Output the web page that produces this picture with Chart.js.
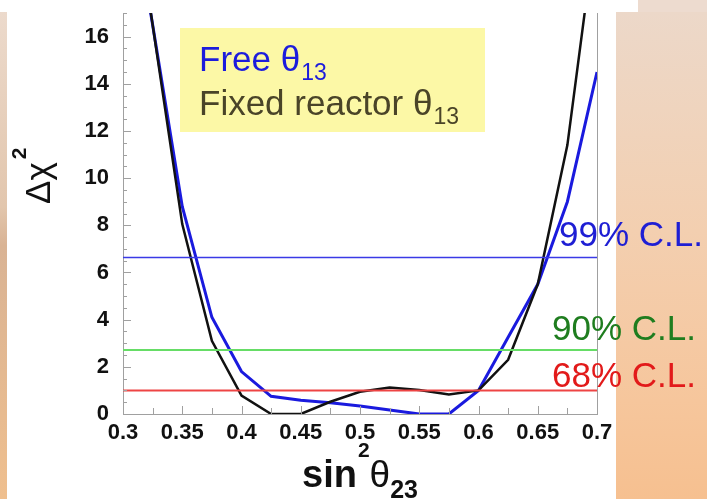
<!DOCTYPE html>
<html>
<head>
<meta charset="utf-8">
<script src="https://cdn.jsdelivr.net/npm/chart.js@4.4.0/dist/chart.umd.min.js"></script>
<style>
  html, body { margin: 0; padding: 0; background: #fff; }
  body { width: 707px; height: 499px; position: relative; overflow: hidden; }
  .deco { position: absolute; }
  #leftStrip { left: 0; top: 12px; width: 7px; height: 487px;
    background: linear-gradient(#ecdacc, #e2c6ad 40%, #d9b394 48%, #efbf8e 100%); }
  #rightCol { left: 616px; top: 12px; width: 91px; height: 487px;
    background: linear-gradient(#ecd8c9, #f3cfb0 45%, #f6c69c 80%, #f6c090 100%); }
  #rightTop { left: 638px; top: 0; width: 69px; height: 12px; background: #eddbcf; }
  #wrap { position: absolute; left: 0; top: 0; width: 707px; height: 499px; }
</style>
</head>
<body>
<div class="deco" id="leftStrip"></div>
<div class="deco" id="rightCol"></div>
<div class="deco" id="rightTop"></div>
<div id="wrap"><canvas id="chi2Chart" width="707" height="499"></canvas></div>
<script>
// --- dados ---
const sinSq = [0.3, 0.325, 0.35, 0.375, 0.4, 0.425, 0.45, 0.475, 0.5, 0.525, 0.55, 0.575, 0.6, 0.625, 0.65, 0.675, 0.7];
const freeTheta13 = [24, 16.5, 8.8, 4.1, 1.8, 0.75, 0.58, 0.48, 0.34, 0.17, 0, 0, 1.0, 3.25, 5.5, 9.0, 14.5];
const fixedTheta13 = [25, 16.5, 8.05, 3.1, 0.78, 0, 0, 0.52, 0.94, 1.12, 1.02, 0.83, 1.0, 2.3, 5.5, 11.4, 21];

const clLevels = [6.63, 2.71, 1.0];
const clNames = ['99% C.L.', '90% C.L.', '68% C.L.'];

const xTicks = [0.3, 0.35, 0.4, 0.45, 0.5, 0.55, 0.6, 0.65, 0.7];
const yTicks = [0, 2, 4, 6, 8, 10, 12, 14, 16];

const FONT = "'Liberation Sans', Arial, sans-serif";

function toPoints(xs, ys) {
  return xs.map(function(x, i) { return { x: x, y: ys[i] }; });
}
function flatLine(level) {
  return [{ x: sinSq[0], y: level }, { x: sinSq[sinSq.length - 1], y: level }];
}

// desenha texto com partes em sub/sobrescrito
function drawRich(ctx, x, y, parts) {
  parts.forEach(function(p) {
    ctx.font = p.font;
    ctx.fillStyle = p.color;
    ctx.fillText(p.text, x, y + (p.dy || 0));
    x += ctx.measureText(p.text).width + (p.gap || 0);
  });
}

const decorPlugin = {
  id: 'decor',
  afterDraw: function(chart) {
    const ctx = chart.ctx;
    const area = chart.chartArea;
    const xs = chart.scales.x, ys = chart.scales.y;
    ctx.save();

    // ticks para dentro
    ctx.strokeStyle = '#a0a0a0';
    ctx.lineWidth = 1;
    ctx.beginPath();
    for (let v = 0; v <= 17.001; v += 0.5) {
      const py = Math.round(ys.getPixelForValue(v)) + 0.5;
      const len = (Math.abs(v % 2) < 0.01) ? 8 : 4;
      ctx.moveTo(area.left, py); ctx.lineTo(area.left + len, py);
    }
    for (let k = 0; k <= 16; k++) {
      const px = Math.round(xs.getPixelForValue(0.3 + k * 0.025)) + 0.5;
      const len = (k % 2 === 0) ? 8 : 6;
      ctx.moveTo(px, area.bottom); ctx.lineTo(px, area.bottom - len);
    }
    // borda direita
    ctx.moveTo(Math.round(area.right) + 0.5, area.top);
    ctx.lineTo(Math.round(area.right) + 0.5, area.bottom);
    ctx.stroke();

    // caixa da legenda
    ctx.fillStyle = '#fcf8a6';
    ctx.fillRect(180, 28, 305, 104);
    ctx.textBaseline = 'alphabetic';
    ctx.textAlign = 'left';
    drawRich(ctx, 199, 71, [
      { text: 'Free ', font: '35px ' + FONT, color: '#1c1cdc' },
      { text: '\u03b8', font: '35px ' + FONT, color: '#1c1cdc', gap: 1 },
      { text: '13', font: '23px ' + FONT, color: '#1c1cdc', dy: 9 }
    ]);
    drawRich(ctx, 199, 115, [
      { text: 'Fixed reactor ', font: '35px ' + FONT, color: '#4a4428' },
      { text: '\u03b8', font: '35px ' + FONT, color: '#4a4428', gap: 1 },
      { text: '13', font: '23px ' + FONT, color: '#4a4428', dy: 9 }
    ]);

    // rotulos dos niveis de confianca
    const clColors = ['#1e1ed4', '#1f7d1f', '#e21a1a'];
    const clPos = [[559, 246], [552, 340], [552, 387]];
    ctx.font = '35px ' + FONT;
    clNames.forEach(function(name, i) {
      ctx.fillStyle = clColors[i];
      ctx.fillText(name, clPos[i][0], clPos[i][1]);
    });

    // titulo do eixo x
    drawRich(ctx, 302, 487, [
      { text: 'sin', font: 'bold 38px ' + FONT, color: '#111', gap: 1 },
      { text: '2', font: 'bold 21px ' + FONT, color: '#111', dy: -30 },
      { text: '\u03b8', font: '37px ' + FONT, color: '#111' },
      { text: '23', font: 'bold 25px ' + FONT, color: '#111', dy: 11 }
    ]);

    // titulo do eixo y
    ctx.translate(50, 204);
    ctx.rotate(-Math.PI / 2);
    drawRich(ctx, 0, 0, [
      { text: '\u0394\u03c7', font: '35px ' + FONT, color: '#111', gap: 3 },
      { text: '2', font: 'bold 21px ' + FONT, color: '#111', dy: -24 }
    ]);
    ctx.restore();
  }
};

const ctx = document.getElementById('chi2Chart');
new Chart(ctx, {
  type: 'line',
  data: {
    datasets: [
      { label: 'CL99', data: flatLine(clLevels[0]), borderColor: '#3a3ae6', borderWidth: 1.5 },
      { label: 'CL90', data: flatLine(clLevels[1]), borderColor: '#66dd66', borderWidth: 2 },
      { label: 'CL68', data: flatLine(clLevels[2]), borderColor: '#ee4444', borderWidth: 2 },
      { label: 'Fixed reactor', data: toPoints(sinSq, fixedTheta13), borderColor: '#111111', borderWidth: 2.5 },
      { label: 'Free', data: toPoints(sinSq, freeTheta13), borderColor: '#1a1ade', borderWidth: 3 }
    ]
  },
  options: {
    responsive: false,
    animation: false,
    maintainAspectRatio: false,
    elements: { point: { radius: 0 }, line: { tension: 0 } },
    layout: { padding: { left: 0, right: 110, top: 13, bottom: 0 } },
    plugins: { legend: { display: false }, tooltip: { enabled: false } },
    scales: {
      x: {
        type: 'linear',
        min: 0.3,
        max: 0.7,
        afterBuildTicks: function(scale) { scale.ticks = xTicks.map(function(v) { return { value: v }; }); },
        afterFit: function(scale) { scale.height = 85; scale.paddingLeft = 0; scale.paddingRight = 0; },
        grid: { display: false, drawTicks: false },
        border: { display: true, color: '#a0a0a0', width: 1 },
        ticks: {
          padding: 6,
          autoSkip: false,
          maxRotation: 0,
          color: '#111',
          font: { family: FONT, size: 22, weight: 'bold' },
          callback: function(v) { return String(Math.round(v * 100) / 100); }
        }
      },
      y: {
        min: 0,
        max: 17,
        afterBuildTicks: function(scale) { scale.ticks = yTicks.map(function(v) { return { value: v }; }); },
        afterFit: function(scale) { scale.width = 123; scale.paddingTop = 0; scale.paddingBottom = 0; },
        grid: { display: false, drawTicks: false },
        border: { display: true, color: '#a0a0a0', width: 1 },
        ticks: {
          padding: 14,
          color: '#111',
          font: { family: FONT, size: 22, weight: 'bold' }
        }
      }
    }
  },
  plugins: [decorPlugin]
});
</script>
</body>
</html>
